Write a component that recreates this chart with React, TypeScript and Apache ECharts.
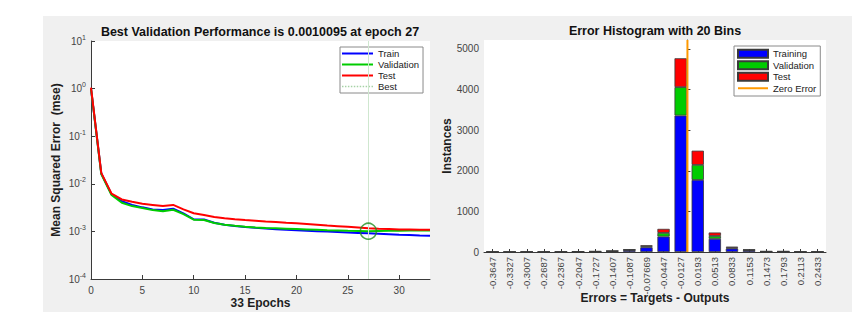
import React, { useEffect, useRef } from 'react';
import * as echarts from 'echarts';

// ---------- Performance plot data ----------
const epochs = [0, 1, 2, 3, 4, 5, 6, 7, 8, 9, 10, 11, 12, 13, 14, 15, 16, 17, 18, 19, 20, 21, 22, 23, 24, 25, 26, 27, 28, 29, 30, 31, 32, 33];
const trainMse = [1.0, 0.0165, 0.006, 0.0043, 0.0036, 0.0032, 0.0029, 0.0028, 0.003, 0.0024, 0.0018, 0.00178, 0.00152, 0.00138, 0.0013, 0.00124, 0.00119, 0.00115, 0.00111, 0.00108, 0.00106, 0.00103, 0.00101, 0.00099, 0.00097, 0.00095, 0.00093, 0.00091, 0.00089, 0.00087, 0.00085, 0.00084, 0.00082, 0.00081];
const validationMse = [1.0, 0.016, 0.0058, 0.004, 0.0034, 0.0031, 0.0028, 0.00265, 0.00285, 0.0023, 0.00176, 0.00173, 0.0015, 0.00138, 0.00131, 0.00125, 0.00121, 0.00118, 0.00116, 0.00114, 0.00112, 0.0011, 0.00108, 0.00106, 0.00105, 0.00103, 0.00102, 0.0010095, 0.00102, 0.00103, 0.00103, 0.00104, 0.00104, 0.00105];
const testMse = [1.05, 0.017, 0.0062, 0.0047, 0.0042, 0.0038, 0.0036, 0.0034, 0.0036, 0.0029, 0.0024, 0.0022, 0.002, 0.00188, 0.00179, 0.00173, 0.00168, 0.00162, 0.00157, 0.00152, 0.00148, 0.00143, 0.00138, 0.00133, 0.00129, 0.00125, 0.00121, 0.00117, 0.00114, 0.00112, 0.0011, 0.00109, 0.00108, 0.00108];
const bestEpoch = 27;
const bestValue = 0.0010095;

// ---------- Histogram data ----------
const binLabels = ['-0.3647', '-0.3327', '-0.3007', '-0.2687', '-0.2367', '-0.2047', '-0.1727', '-0.1407', '-0.1087', '-0.07669', '-0.0447', '-0.0127', '0.0193', '0.0513', '0.0833', '0.1153', '0.1473', '0.1793', '0.2113', '0.2433'];
const trainingCounts = [1, 0, 1, 1, 2, 10, 12, 20, 48, 115, 380, 3360, 1775, 325, 85, 45, 12, 12, 2, 1];
const validationCounts = [0, 0, 0, 0, 0, 1, 2, 3, 6, 25, 90, 700, 370, 70, 20, 6, 2, 2, 0, 0];
const testCounts = [0, 0, 0, 0, 0, 1, 2, 3, 6, 25, 100, 710, 350, 85, 25, 6, 2, 2, 0, 0];
const binEdgeMin = -0.3807;
const binEdgeMax = 0.2593;
const zeroError = 0;
const histYMax = 5220;

const FONT = '"Liberation Sans", Arial, Helvetica, sans-serif';
const AX = '#3a3a3a';
const LBL = '#444';
const NAME = '#1e1e1e';

const LINE_ICON = 'path://M0 0H31V2H0Z';
let dots = '';
for (let i = 0; i < 11; i++) dots += 'M' + i * 3 + ' 0h1.5v1.5h-1.5Z';
const DOT_ICON = 'path://' + dots;

export default function App() {
  const ref = useRef<HTMLDivElement>(null);
  useEffect(() => {
    if (!ref.current) return;
    const chart = echarts.init(ref.current, undefined, { renderer: 'svg' });
    const pts = (arr: number[]) => arr.map((v, i) => [epochs[i], v]);
    const nameStyle = { fontWeight: 'bold', fontSize: 12, color: NAME, fontFamily: FONT };
    const titleStyle = { fontSize: 12.5, fontWeight: 'bold', color: '#111', fontFamily: FONT };
    const option: any = {
      animation: false,
      textStyle: { fontFamily: FONT },
      graphic: [
        {
          type: 'rect',
          z: -100,
          silent: true,
          shape: { x: 43, y: 16, width: 809, height: 296 },
          style: { fill: '#f0f0f0' },
        },
      ],
      title: [
        {
          text: 'Best Validation Performance is 0.0010095 at epoch 27',
          left: 260,
          top: 25,
          textAlign: 'center',
          padding: 0,
          textStyle: titleStyle,
        },
        {
          text: 'Error Histogram with 20 Bins',
          left: 655,
          top: 24,
          textAlign: 'center',
          padding: 0,
          textStyle: titleStyle,
        },
      ],
      legend: [
        {
          data: [
            { name: 'Train', icon: LINE_ICON },
            { name: 'Validation', icon: LINE_ICON },
            { name: 'Test', icon: LINE_ICON },
            { name: 'Best', icon: DOT_ICON },
          ],
          left: 340,
          top: 47,
          orient: 'vertical',
          padding: [1, 4, 1, 2],
          itemGap: 0,
          itemWidth: 31,
          itemHeight: 11,
          backgroundColor: '#fff',
          borderColor: '#8a8a8a',
          borderWidth: 1,
          selectedMode: false,
          textStyle: { fontSize: 9.5, color: '#222', lineHeight: 11, fontFamily: FONT },
        },
        {
          data: [
            { name: 'Training', icon: 'rect' },
            { name: 'Validation (hist)', icon: 'rect' },
            { name: 'Test (hist)', icon: 'rect' },
            { name: 'Zero Error', icon: 'path://M0 0H30V2H0Z' },
          ],
          formatter: (n: string) => n.replace(' (hist)', ''),
          left: 734,
          top: 46,
          orient: 'vertical',
          padding: [2, 4, 2, 3],
          itemGap: 0,
          itemWidth: 30,
          itemHeight: 8,
          backgroundColor: '#fff',
          borderColor: '#8a8a8a',
          borderWidth: 1,
          selectedMode: false,
          textStyle: { fontSize: 9.5, color: '#222', lineHeight: 11.5, fontFamily: FONT },
        },
      ],
      grid: [
        { left: 91, top: 41, width: 339, height: 238, show: true, backgroundColor: '#fff', borderWidth: 0 },
        { left: 484, top: 40, width: 342, height: 212, show: true, backgroundColor: '#fff', borderWidth: 0 },
      ],
      xAxis: [
        {
          gridIndex: 0,
          type: 'value',
          min: 0,
          max: 33,
          interval: 5,
          name: '33 Epochs',
          nameLocation: 'middle',
          nameGap: 18,
          nameMoveOverlap: false,
          nameTextStyle: nameStyle,
          axisLine: { show: true, onZero: false, lineStyle: { color: AX } },
          axisTick: { show: true, inside: true, length: 4, lineStyle: { color: AX } },
          axisLabel: { fontSize: 10, color: LBL, margin: 6, showMaxLabel: false },
          splitLine: { show: false },
        },
        {
          gridIndex: 1,
          type: 'category',
          data: binLabels,
          name: 'Errors = Targets - Outputs',
          nameLocation: 'middle',
          nameGap: 40,
          nameMoveOverlap: false,
          nameTextStyle: nameStyle,
          axisLine: { show: true, lineStyle: { color: AX } },
          axisTick: { show: true, inside: true, alignWithLabel: true, length: 3, lineStyle: { color: AX } },
          axisLabel: { rotate: 90, interval: 0, fontSize: 9.5, color: LBL, margin: 5 },
          splitLine: { show: false },
        },
        {
          gridIndex: 1,
          type: 'value',
          min: binEdgeMin,
          max: binEdgeMax,
          show: false,
        },
      ],
      yAxis: [
        {
          gridIndex: 0,
          type: 'log',
          logBase: 10,
          min: 1e-4,
          max: 10,
          splitNumber: 5,
          name: 'Mean Squared Error  (mse)',
          nameLocation: 'middle',
          nameGap: 29,
          nameMoveOverlap: false,
          nameTextStyle: nameStyle,
          axisLine: { show: true, lineStyle: { color: AX } },
          axisTick: { show: true, inside: true, length: 4, lineStyle: { color: AX } },
          axisLabel: {
            color: LBL,
            margin: 5,
            formatter: (v: number) => '{b|10}{s|' + Math.round(Math.log10(v)) + '}',
            rich: {
              b: { fontSize: 10, color: LBL, fontFamily: FONT },
              s: { fontSize: 7, color: LBL, fontFamily: FONT, padding: [0, 0, 8, 0] },
            },
          },
          splitLine: { show: false },
        },
        {
          gridIndex: 1,
          type: 'value',
          min: 0,
          max: histYMax,
          interval: 1000,
          name: 'Instances',
          nameLocation: 'middle',
          nameGap: 31,
          nameMoveOverlap: false,
          nameTextStyle: nameStyle,
          axisLine: { show: true, lineStyle: { color: AX } },
          axisTick: { show: true, inside: true, length: 3, lineStyle: { color: AX } },
          axisLabel: { fontSize: 10, color: LBL, margin: 5, showMaxLabel: false, formatter: (v: number) => String(v) },
          splitLine: { show: false },
        },
      ],
      series: [
        {
          name: 'Best',
          type: 'line',
          xAxisIndex: 0,
          yAxisIndex: 0,
          data: [[bestEpoch, bestValue]],
          symbol: 'none',
          z: 1,
          color: '#a6d2a6',
          lineStyle: { color: '#a6d2a6', width: 1, type: 'dotted' },
          markLine: {
            silent: true,
            symbol: 'none',
            label: { show: false },
            lineStyle: { color: '#cfe7cf', width: 1, type: 'solid' },
            data: [{ xAxis: bestEpoch }, { yAxis: bestValue }],
          },
        },
        {
          name: 'Train',
          type: 'line',
          xAxisIndex: 0,
          yAxisIndex: 0,
          data: pts(trainMse),
          symbol: 'none',
          color: '#0000ff',
          lineStyle: { color: '#0000ff', width: 2 },
          z: 2,
        },
        {
          name: 'Validation',
          type: 'line',
          xAxisIndex: 0,
          yAxisIndex: 0,
          data: pts(validationMse),
          symbol: 'none',
          color: '#00cc00',
          lineStyle: { color: '#00cc00', width: 2 },
          z: 3,
        },
        {
          name: 'Test',
          type: 'line',
          xAxisIndex: 0,
          yAxisIndex: 0,
          data: pts(testMse),
          symbol: 'none',
          color: '#ff0000',
          lineStyle: { color: '#ff0000', width: 2 },
          z: 4,
        },
        {
          name: 'BestPoint',
          type: 'scatter',
          xAxisIndex: 0,
          yAxisIndex: 0,
          data: [[bestEpoch, bestValue]],
          symbol: 'circle',
          symbolSize: 16,
          z: 6,
          itemStyle: { color: 'rgba(0,0,0,0)', borderColor: '#1f8f1f', borderWidth: 1.5 },
        },
        {
          name: 'Training',
          type: 'bar',
          stack: 'hist',
          xAxisIndex: 1,
          yAxisIndex: 1,
          data: trainingCounts,
          barWidth: '72%',
          color: '#0000ff',
          itemStyle: { color: '#0000ff', borderColor: '#3a3a3a', borderWidth: 0.8 },
        },
        {
          name: 'Validation (hist)',
          type: 'bar',
          stack: 'hist',
          xAxisIndex: 1,
          yAxisIndex: 1,
          data: validationCounts,
          barWidth: '72%',
          color: '#00cc00',
          itemStyle: { color: '#00cc00', borderColor: '#3a3a3a', borderWidth: 0.8 },
        },
        {
          name: 'Test (hist)',
          type: 'bar',
          stack: 'hist',
          xAxisIndex: 1,
          yAxisIndex: 1,
          data: testCounts,
          barWidth: '72%',
          color: '#ff0000',
          itemStyle: { color: '#ff0000', borderColor: '#3a3a3a', borderWidth: 0.8 },
        },
        {
          name: 'Zero Error',
          type: 'line',
          xAxisIndex: 2,
          yAxisIndex: 1,
          data: [[zeroError, 0], [zeroError, histYMax]],
          symbol: 'none',
          color: '#ff9900',
          lineStyle: { color: '#ff9900', width: 2 },
          z: 5,
        },
      ],
    };
    chart.setOption(option);
    return () => chart.dispose();
  }, []);
  return (
    <div
      ref={ref}
      style={{ position: 'absolute', left: 0, top: 0, width: 863, height: 327, background: '#fff' }}
    />
  );
}
